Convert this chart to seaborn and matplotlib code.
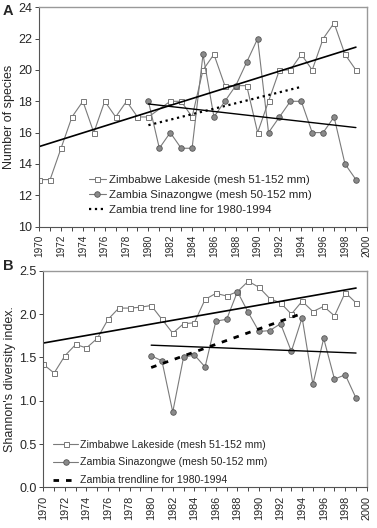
import numpy as np
import pandas as pd
import matplotlib
matplotlib.use('Agg')
import matplotlib.pyplot as plt
import seaborn as sns

# panel A - number of species
zim_years_a = [1970, 1971, 1972, 1973, 1974, 1975, 1976, 1977, 1978, 1979, 1980,
               1982, 1983, 1984, 1985, 1986, 1987, 1988, 1989, 1990, 1991, 1992,
               1993, 1994, 1995, 1996, 1997, 1998, 1999]
zim_species = [13, 13, 15, 17, 18, 16, 18, 17, 18, 17, 17,
               18, 18, 17, 20, 21, 19, 19, 19, 16, 18, 20,
               20, 21, 20, 22, 23, 21, 20]
zam_years = list(range(1980, 2000))
zam_species = [18, 15, 16, 15, 15, 21, 17, 18, 19, 20.5, 22, 16,
               17, 18, 18, 16, 16, 17, 14, 13]

# panel B - Shannon's diversity index
zim_years_b = list(range(1970, 2000))
zim_shannon = [1.42, 1.32, 1.52, 1.65, 1.61, 1.72, 1.94, 2.07, 2.07, 2.08,
               2.10, 1.94, 1.78, 1.89, 1.90, 2.17, 2.24, 2.21, 2.26, 2.38,
               2.31, 2.18, 2.13, 2.00, 2.15, 2.03, 2.09, 1.98, 2.25, 2.13]
zam_shannon = [1.52, 1.46, 0.87, 1.50, 1.53, 1.39, 1.92, 1.94, 2.26, 2.02,
               1.80, 1.81, 1.89, 1.57, 1.96, 1.19, 1.72, 1.25, 1.30, 1.03]

sns.set_style('white')
plt.rcParams['font.family'] = ['Liberation Sans', 'DejaVu Sans']

line_col = '#7a7a7a'
fig = plt.figure(figsize=(3.77, 5.28), dpi=100)
axA = fig.add_axes([0.104, 0.571, 0.869, 0.415])
axB = fig.add_axes([0.115, 0.077, 0.858, 0.410])


def draw_panel(ax, zim_x, zim_y, zam_x, zam_y, trend_ls, trend_lw, labels, xfs):
    sns.lineplot(x=zim_x, y=zim_y, ax=ax, color=line_col, lw=0.8, marker='s',
                 markersize=3.6, markerfacecolor='white', markeredgecolor='#777777',
                 markeredgewidth=0.7, label=labels[0])
    sns.lineplot(x=zam_x, y=zam_y, ax=ax, color=line_col, lw=0.8, marker='o',
                 markersize=4, markerfacecolor='#8a8a8a', markeredgecolor='#555555',
                 markeredgewidth=0.6, label=labels[1])
    # linear trends
    sns.regplot(x=np.array(zim_x), y=np.array(zim_y), ax=ax, scatter=False, ci=None,
                truncate=True, line_kws=dict(color='black', lw=1.2))
    sns.regplot(x=np.array(zam_x), y=np.array(zam_y), ax=ax, scatter=False, ci=None,
                truncate=True, line_kws=dict(color='black', lw=1.0))
    sub_x = np.array(zam_x[:15])
    sub_y = np.array(zam_y[:15])
    sns.regplot(x=sub_x, y=sub_y, ax=ax, scatter=False, ci=None, truncate=True,
                label=labels[2],
                line_kws=dict(color='black', lw=trend_lw, ls=trend_ls))
    ax.set_xlim(1970, 2000)
    ax.set_xticks(range(1970, 2001, 2))
    ax.set_xticklabels([str(y) for y in range(1970, 2001, 2)], rotation=90, fontsize=xfs)
    ax.set_xticks(range(1970, 2001), minor=True)
    ax.tick_params(axis='x', which='both', direction='out', length=3, width=0.6,
                   bottom=True, pad=3)
    ax.tick_params(axis='y', labelsize=9, left=True, length=3, width=0.6, pad=2)
    for s in ['top', 'right']:
        ax.spines[s].set_color('#999999')
        ax.spines[s].set_linewidth(1.0)
    for s in ['left', 'bottom']:
        ax.spines[s].set_color('#555555')
        ax.spines[s].set_linewidth(0.8)


draw_panel(axA, zim_years_a, zim_species, zam_years, zam_species, ':', 1.6,
           ['Zimbabwe Lakeside (mesh 51-152 mm)',
            'Zambia Sinazongwe (mesh 50-152 mm)',
            'Zambia trend line for 1980-1994'], 7.2)
axA.set_ylim(10, 24)
axA.set_yticks(range(10, 25, 2))
axA.set_ylabel('Number of species', fontsize=9, labelpad=2)
axA.legend(loc='lower left', bbox_to_anchor=(0.13, 0.02), frameon=False,
           fontsize=8.2, handlelength=1.5, handletextpad=0.25, labelspacing=0.45,
           borderaxespad=0.2)

draw_panel(axB, zim_years_b, zim_shannon, zam_years, zam_shannon, (0, (2.0, 2.5)), 2.0,
           ['Zimbabwe Lakeside (mesh 51-152 mm)',
            'Zambia Sinazongwe (mesh 50-152 mm)',
            'Zambia trendline for 1980-1994'], 7.8)
axB.set_ylim(0, 2.5)
axB.set_yticks(np.arange(0, 2.51, 0.5))
axB.set_yticklabels(['0.0', '0.5', '1.0', '1.5', '2.0', '2.5'])
axB.set_ylabel("Shannon's diversity index.", fontsize=9, labelpad=2)
axB.legend(loc='lower left', bbox_to_anchor=(0.01, -0.02), frameon=False,
           fontsize=7.6, handlelength=2.4, handletextpad=0.2, labelspacing=0.75,
           borderaxespad=0.2)

fig.text(0.008, 0.972, 'A', fontsize=10.5, fontweight='bold')
fig.text(0.008, 0.488, 'B', fontsize=10.5, fontweight='bold')

fig.savefig('out.png', dpi=100)
